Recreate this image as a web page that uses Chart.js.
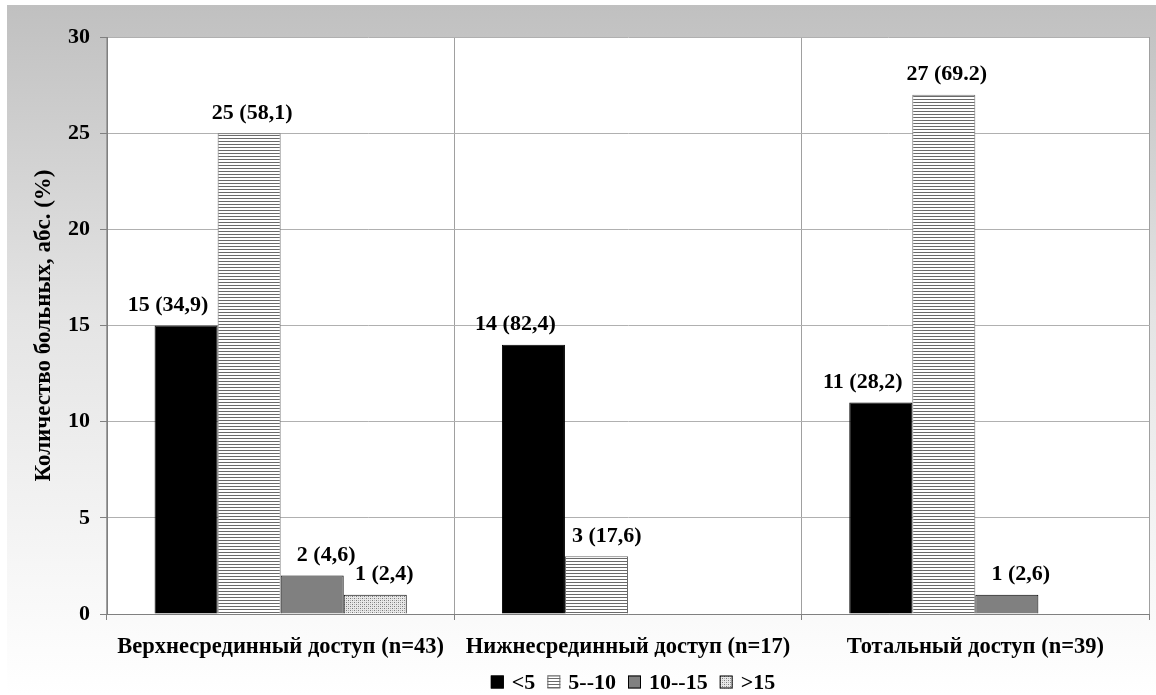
<!DOCTYPE html>
<html>
<head>
<meta charset="utf-8">
<script src="https://cdn.jsdelivr.net/npm/chart.js@4.4.1/dist/chart.umd.min.js"></script>
<style>
  html, body { margin: 0; padding: 0; background: #fff; }
  #wrap { width: 1156px; height: 695px; }
</style>
</head>
<body>
<div id="wrap"><canvas id="chart" width="1156" height="695"></canvas></div>
<script>
const categories = ["Верхнесрединный доступ (n=43)", "Нижнесрединный доступ (n=17)", "Тотальный доступ (n=39)"];
const seriesNames = ["<5", "5--10", "10--15", ">15"];
const under5 = [15, 14, 11];
const from5to10 = [25, 3, 27];
const from10to15 = [2, null, 1];
const over15 = [1, null, null];
const pctUnder5 = ["34,9", "82,4", "28,2"];
const pct5to10 = ["58,1", "17,6", "69.2"];
const pct10to15 = ["4,6", null, "2,6"];
const pctOver15 = ["2,4", null, null];
const yTicks = [0, 5, 10, 15, 20, 25, 30];

const FONT = "'Liberation Serif', 'Times New Roman', serif";

function makePattern(w, h, draw) {
  const c = document.createElement("canvas");
  c.width = w; c.height = h;
  const g = c.getContext("2d");
  draw(g);
  return document.getElementById("chart").getContext("2d").createPattern(c, "repeat");
}

const stripes = makePattern(4, 3, (g) => {
  g.fillStyle = "#ffffff"; g.fillRect(0, 0, 4, 3);
  g.fillStyle = "#6a6a6a"; g.fillRect(0, 0, 4, 1);
});
const dots = makePattern(4, 4, (g) => {
  g.fillStyle = "#e8e8e8"; g.fillRect(0, 0, 4, 4);
  g.fillStyle = "#7a7a7a";
  g.fillRect(0, 0, 1, 1); g.fillRect(2, 2, 1, 1);
  g.fillStyle = "#b0b0b0";
  g.fillRect(2, 0, 1, 1); g.fillRect(0, 2, 1, 1);
});

// backdrop: grey-to-white frame and white plot area
const backdrop = {
  id: "backdrop",
  beforeDraw(chart) {
    const { ctx, chartArea: a } = chart;
    ctx.save();
    ctx.fillStyle = "#ffffff";
    ctx.fillRect(0, 0, chart.width, chart.height);
    const grad = ctx.createLinearGradient(0, 5, 0, chart.height);
    grad.addColorStop(0, "#c0c0c0");
    grad.addColorStop(0.45, "#e4e4e4");
    grad.addColorStop(0.85, "#f8f8f8");
    grad.addColorStop(1, "#ffffff");
    ctx.fillStyle = grad;
    ctx.fillRect(7, 5, chart.width - 7, chart.height - 5);
    ctx.fillStyle = "#ffffff";
    ctx.fillRect(a.left, a.top, a.right - a.left, a.bottom - a.top);
    ctx.restore();
  }
};

// value labels above the bars: "n (pct)"
// a label is pushed right when the bar to its left is tall enough to collide with it
const valueLabels = {
  id: "valueLabels",
  afterDatasetsDraw(chart) {
    const ctx = chart.ctx;
    ctx.save();
    ctx.font = "bold 22px " + FONT;
    ctx.fillStyle = "#000";
    ctx.textAlign = "center";
    ctx.textBaseline = "bottom";
    chart.data.datasets.forEach((ds, i) => {
      chart.getDatasetMeta(i).data.forEach((bar, j) => {
        const v = ds.data[j];
        if (v === null || v === undefined) return;
        const text = v + " (" + ds.pct[j] + ")";
        const w = ctx.measureText(text).width;
        const bottom = bar.y - 9;
        let cx = bar.x + ds.labelDx;
        if (i > 0) {
          const prev = chart.getDatasetMeta(i - 1).data[j];
          const pv = chart.data.datasets[i - 1].data[j];
          if (prev && pv !== null && pv !== undefined && prev.y < bottom) {
            const minLeft = prev.x + prev.width / 2 + 7;
            if (cx - w / 2 < minLeft) cx = minLeft + w / 2;
          }
        }
        ctx.fillText(text, cx, bottom);
      });
    });
    ctx.restore();
  }
};

// legend row under the category labels
const bottomLegend = {
  id: "bottomLegend",
  afterDraw(chart) {
    const ctx = chart.ctx;
    ctx.save();
    ctx.font = "bold 22px " + FONT;
    ctx.textBaseline = "middle";
    ctx.textAlign = "left";
    const box = 13, gapBox = 8, gapItem = 12;
    const items = chart.data.datasets.map((ds) => ({ ds, w: box + gapBox + ctx.measureText(ds.label).width }));
    const total = items.reduce((s, it) => s + it.w, 0) + gapItem * (items.length - 1);
    let x = 633 - total / 2;
    const y = 682;
    items.forEach((it) => {
      ctx.fillStyle = it.ds.backgroundColor;
      ctx.fillRect(x, y - box / 2, box, box);
      ctx.strokeStyle = it.ds.borderColor;
      ctx.lineWidth = 1;
      ctx.strokeRect(x + 0.5, y - box / 2 + 0.5, box - 1, box - 1);
      ctx.fillStyle = "#000";
      ctx.fillText(it.ds.label, x + box + gapBox, y + 1);
      x += it.w + gapItem;
    });
    ctx.restore();
  }
};

new Chart(document.getElementById("chart"), {
  type: "bar",
  data: {
    labels: categories,
    datasets: [
      { label: seriesNames[0], data: under5, pct: pctUnder5, labelDx: -18,
        backgroundColor: "#000000", borderColor: "#000000", borderWidth: 1 },
      { label: seriesNames[1], data: from5to10, pct: pct5to10, labelDx: 3,
        backgroundColor: stripes, borderColor: "#6a6a6a", borderWidth: 1 },
      { label: seriesNames[2], data: from10to15, pct: pct10to15, labelDx: 14,
        backgroundColor: "#808080", borderColor: "#000000", borderWidth: 1 },
      { label: seriesNames[3], data: over15, pct: pctOver15, labelDx: 9,
        backgroundColor: dots, borderColor: "#000000", borderWidth: 1 }
    ]
  },
  options: {
    responsive: false,
    animation: false,
    devicePixelRatio: 1,
    categoryPercentage: 0.726,
    barPercentage: 1,
    layout: { padding: { left: 0, top: 37, right: 7, bottom: 0 } },
    plugins: {
      legend: { display: false },
      tooltip: { enabled: false }
    },
    scales: {
      x: {
        grid: { color: "#a0a0a0", offset: true, tickLength: 6, tickColor: "#808080", drawOnChartArea: true },
        border: { color: "#808080", width: 1 },
        ticks: { color: "#000", font: { family: FONT, size: 22.5, weight: "bold" }, padding: 14, maxRotation: 0 },
        afterFit(scale) { scale.height = 81; }
      },
      y: {
        min: 0, max: 30,
        afterBuildTicks(scale) { scale.ticks = yTicks.map((v) => ({ value: v })); },
        grid: { color: "#b0b0b0", tickLength: 7, tickColor: "#808080" },
        border: { color: "#808080", width: 1 },
        ticks: { color: "#000", font: { family: FONT, size: 22, weight: "bold" }, padding: 10 },
        title: { display: true, text: "Количество больных, абс. (%)", color: "#000",
                 font: { family: FONT, size: 23, weight: "bold" }, padding: { top: 30, bottom: 14 } },
        afterFit(scale) { scale.width = 107; }
      }
    }
  },
  plugins: [backdrop, valueLabels, bottomLegend]
});
</script>
</body>
</html>
